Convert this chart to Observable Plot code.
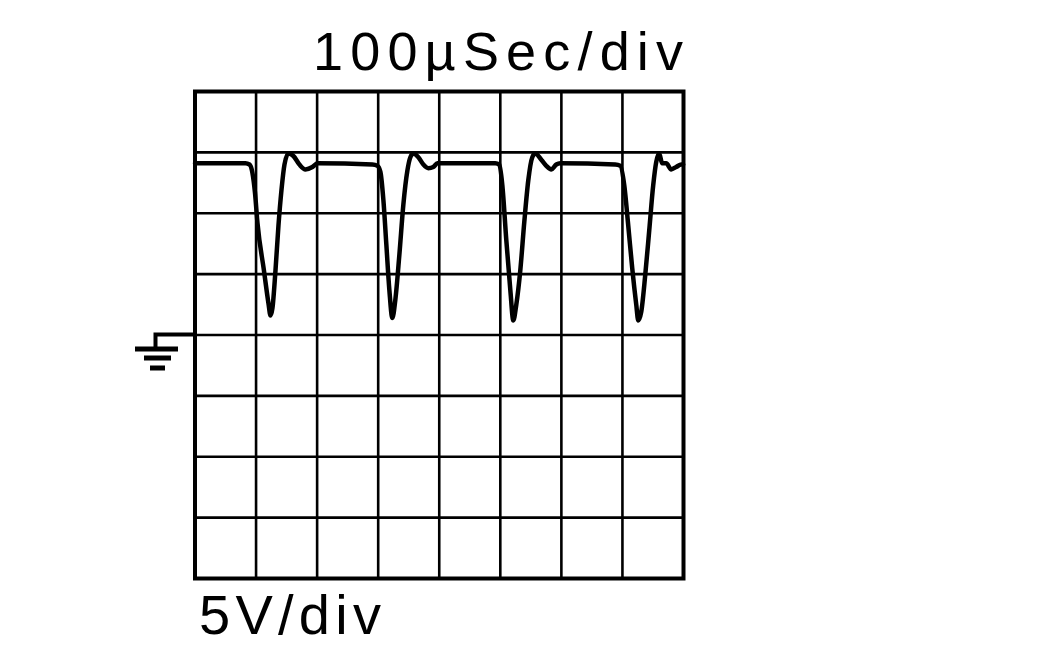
<!DOCTYPE html>
<html><head><meta charset="utf-8">
<script src="https://cdn.jsdelivr.net/npm/d3@7"></script>
<script src="https://cdn.jsdelivr.net/npm/@observablehq/plot@0.6"></script>
<style>body{margin:0;background:#fff;} svg{display:block}</style>
</head><body><div id="chart"></div>
<script>
// Oscilloscope trace: time in microseconds, voltage in volts
const timeUs = [
  0, 82.6, 89.2, 94.1, 98.2, 102.3, 112.9, 120.3, 123.6, 126.8, 131.8, 136.7, 141.6, 146.5, 153.0, 161.2, 171.0, 180.9, 192.3, 200.5,
  290.5, 298.7, 303.6, 308.5, 313.4, 318.3, 323.2, 328.1, 334.7, 341.2, 347.8, 352.7, 357.6, 365.8, 374.0, 382.2, 390.3, 396.9,
  491.8, 498.4, 503.3, 509.8, 516.4, 521.3, 526.2, 532.7, 539.3, 545.8, 552.4, 557.3, 567.1, 575.3, 583.5, 591.7, 598.2,
  688.2, 696.4, 703.0, 709.5, 716.0, 722.6, 725.9, 730.8, 737.3, 743.9, 750.4, 755.3, 760.2, 765.1, 771.7, 779.9, 788.0, 796.2, 799.5
];
const volts = [
  14.1, 14.1, 14.0, 13.3, 11.7, 9.2, 5.3, 2.6, 1.6, 2.2, 5.3, 9.0, 11.9, 14.0, 14.9, 14.7, 14.0, 13.6, 13.8, 14.1,
  14.0, 13.9, 13.4, 11.1, 7.4, 3.7, 1.4, 2.9, 6.6, 10.7, 13.5, 14.6, 14.9, 14.6, 14.0, 13.7, 13.8, 14.1,
  14.1, 14.0, 12.3, 7.8, 3.7, 1.2, 2.5, 5.3, 9.3, 12.7, 14.6, 14.9, 14.4, 13.9, 13.6, 14.0, 14.1,
  14.0, 13.9, 12.3, 9.0, 5.5, 2.5, 1.2, 1.9, 4.9, 8.6, 12.3, 14.2, 14.9, 14.1, 14.1, 13.6, 13.8, 14.0, 14.0
];
const timeGridTicks = [0, 100, 200, 300, 400, 500, 600, 700, 800];
const voltGridTicks = [-20, -15, -10, -5, 0, 5, 10, 15, 20];
const timeLabel = "100µSec/div";
const voltLabel = "5V/div";

const trace = timeUs.map((t, i) => ({t, v: volts[i]}));
const FONT = "'Liberation Sans', Arial, Helvetica, sans-serif";

// ground symbol anchored at 0 V on the left edge of the screen
const groundMark = (index, scales, values, dims) => {
  const y0 = scales.y(0), x0 = dims.marginLeft;
  const g = d3.create("svg:g").attr("stroke", "black").attr("fill", "none");
  g.append("path").attr("d", `M${x0},${y0}H${x0 - 39}V${y0 + 13}`).attr("stroke-width", 4);
  [[14.5, 59.5, 16.5], [23.5, 50.5, 23.5], [33.5, 44.5, 29.5]].forEach(([dy, a, b]) => {
    g.append("line").attr("x1", x0 - a).attr("x2", x0 - b).attr("y1", y0 + dy).attr("y2", y0 + dy).attr("stroke-width", 5);
  });
  return g.node();
};

const plot = Plot.plot({
  width: 1063,
  height: 661,
  marginLeft: 194.5,
  marginRight: 380,
  marginTop: 91,
  marginBottom: 83,
  x: {domain: [0, 800], axis: null},
  y: {domain: [-20, 20], axis: null},
  marks: [
    Plot.ruleX(timeGridTicks, {stroke: "black", strokeWidth: 2.6}),
    Plot.ruleY(voltGridTicks, {stroke: "black", strokeWidth: 2.6}),
    Plot.frame({stroke: "black", strokeWidth: 4}),
    Plot.line(trace, {x: "t", y: "v", stroke: "black", strokeWidth: 4.5, curve: "monotone-x"}),
    groundMark
  ]
});

const svg = d3.select(plot);
svg.append("text").text(timeLabel)
  .attr("x", 683).attr("y", 70).attr("text-anchor", "end")
  .attr("font-family", FONT).attr("font-size", 54).attr("fill", "black")
  .attr("textLength", 370).attr("lengthAdjust", "spacing");
svg.append("text").text(voltLabel)
  .attr("x", 199).attr("y", 634).attr("text-anchor", "start")
  .attr("font-family", FONT).attr("font-size", 56).attr("fill", "black")
  .attr("textLength", 182).attr("lengthAdjust", "spacing");

document.getElementById("chart").appendChild(plot);
</script>
</body></html>
